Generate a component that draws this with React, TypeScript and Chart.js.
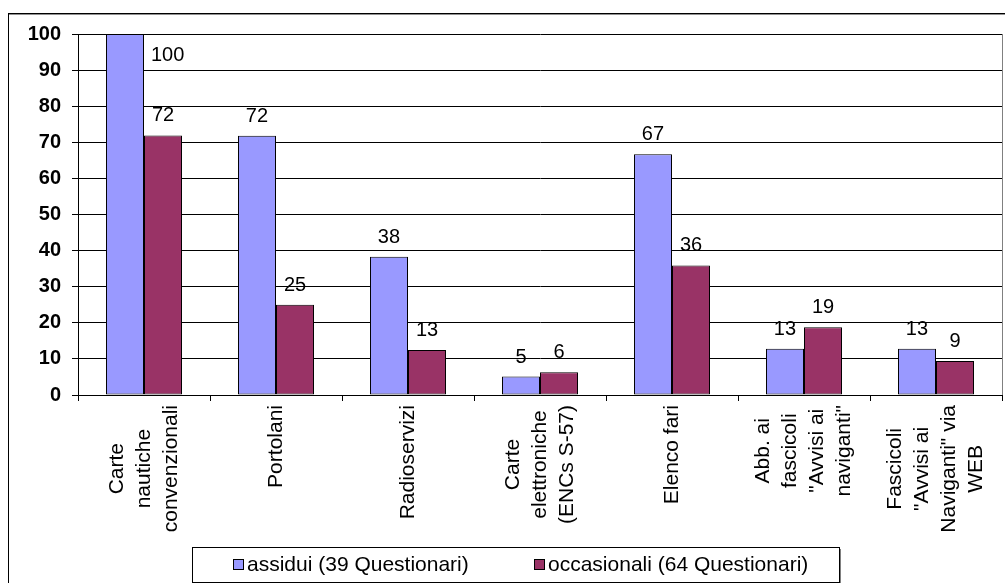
import { useEffect, useRef } from "react";
import { Chart, registerables } from "chart.js";

Chart.register(...registerables);

// ---- data ----
const categories: string[][] = [
  ["Carte", "nautiche", "convenzionali"],
  ["Portolani"],
  ["Radioservizi"],
  ["Carte", "elettroniche", "(ENCs S-57)"],
  ["Elenco fari"],
  ["Abb. ai", "fascicoli", "\"Avvisi ai", "naviganti\""],
  ["Fascicoli", "\"Avvisi ai", "Naviganti\" via", "WEB"],
];
const assiduiValues = [100, 71.8, 38.3, 5.1, 66.7, 12.8, 12.8];
const occasionaliValues = [71.9, 25, 12.5, 6.3, 35.9, 18.8, 9.4];
const seriesLabels = ["assidui (39 Questionari)", "occasionali (64 Questionari)"];
const seriesColors = ["#9999FF", "#993366"];
const yMin = 0;
const yMax = 100;
const yStep = 10;

const FONT = '"Liberation Sans", Arial, sans-serif';

const decorPlugin = {
  id: "decor",
  afterDraw(chart: any) {
    const ctx = chart.ctx as CanvasRenderingContext2D;
    const area = chart.chartArea;
    ctx.save();

    // right border of plot area
    ctx.strokeStyle = "#808080";
    ctx.lineWidth = 1;
    ctx.beginPath();
    ctx.moveTo(Math.round(area.right) + 0.5, area.top);
    ctx.lineTo(Math.round(area.right) + 0.5, area.bottom);
    ctx.stroke();

    // value labels
    ctx.fillStyle = "#000";
    ctx.font = `20px ${FONT}`;
    chart.data.datasets.forEach((ds: any, di: number) => {
      const meta = chart.getDatasetMeta(di);
      meta.data.forEach((bar: any, i: number) => {
        const txt = String(Math.round(ds.data[i]));
        const baseY = bar.y - 14;
        if (baseY - 15 < area.top) {
          ctx.textAlign = "left";
          ctx.textBaseline = "alphabetic";
          ctx.fillText(txt, bar.x + bar.width / 2 + 7, area.top + 27);
        } else {
          ctx.textAlign = "center";
          ctx.textBaseline = "alphabetic";
          ctx.fillText(txt, bar.x, baseY);
        }
      });
    });

    // category labels (rotated, lines centered)
    const xs = chart.scales.x;
    ctx.font = `21px ${FONT}`;
    const lh = 27;
    categories.forEach((lines, i) => {
      const cx = xs.getPixelForValue(i);
      const maxW = Math.max(...lines.map((l) => ctx.measureText(l).width));
      const centerY = xs.top + 10 + maxW / 2;
      lines.forEach((l, j) => {
        const x = cx + (j - (lines.length - 1) / 2) * lh;
        ctx.save();
        ctx.translate(x, centerY);
        ctx.rotate(-Math.PI / 2);
        ctx.textAlign = "center";
        ctx.textBaseline = "middle";
        ctx.fillText(l, 0, 0);
        ctx.restore();
      });
    });

    // legend box
    const lx = 192, ly = 547, lw = 647, lhh = 35;
    ctx.strokeStyle = "#808080";
    ctx.lineWidth = 2;
    ctx.beginPath();
    ctx.moveTo(lx + 2, ly + lhh + 1);
    ctx.lineTo(lx + lw + 1, ly + lhh + 1);
    ctx.lineTo(lx + lw + 1, ly + 2);
    ctx.stroke();
    ctx.strokeStyle = "#000";
    ctx.lineWidth = 1;
    ctx.strokeRect(lx + 0.5, ly + 0.5, lw, lhh);

    const itemX = [233, 534];
    seriesLabels.forEach((lab, k) => {
      const mx = itemX[k];
      const my = 559;
      ctx.fillStyle = seriesColors[k];
      ctx.fillRect(mx, my, 10, 10);
      ctx.strokeStyle = "#000";
      ctx.lineWidth = 1;
      ctx.strokeRect(mx + 0.5, my + 0.5, 10, 10);
      ctx.fillStyle = "#000";
      ctx.font = `21px ${FONT}`;
      ctx.textAlign = "left";
      ctx.textBaseline = "middle";
      ctx.fillText(lab, mx + 14, my + 6);
    });

    // outer chart border
    ctx.strokeStyle = "#000";
    ctx.lineWidth = 1;
    ctx.strokeRect(8.5, 13.5, 1200, 800);
    ctx.strokeStyle = "#909090";
    ctx.beginPath();
    ctx.moveTo(9, 14.5);
    ctx.lineTo(1005, 14.5);
    ctx.stroke();

    ctx.restore();
  },
};

export default function App() {
  const ref = useRef<HTMLCanvasElement>(null);

  useEffect(() => {
    if (!ref.current) return;
    const chart = new Chart(ref.current, {
      type: "bar",
      data: {
        labels: categories.map((c) => c.join(" ")),
        datasets: [
          {
            label: seriesLabels[0],
            data: assiduiValues,
            backgroundColor: seriesColors[0],
            borderColor: "#000",
            borderWidth: 1,
            borderSkipped: false,
          },
          {
            label: seriesLabels[1],
            data: occasionaliValues,
            backgroundColor: seriesColors[1],
            borderColor: "#000",
            borderWidth: 1,
            borderSkipped: false,
          },
        ],
      },
      options: {
        responsive: false,
        animation: false,
        devicePixelRatio: 1,
        datasets: { bar: { categoryPercentage: 0.576, barPercentage: 1 } },
        layout: { padding: { top: 34, right: 3, left: 0, bottom: 0 } },
        plugins: {
          legend: { display: false },
          tooltip: { enabled: false },
          title: { display: false },
        },
        scales: {
          x: {
            offset: true,
            grid: {
              display: true,
              drawOnChartArea: false,
              drawTicks: true,
              tickLength: 6,
              color: "#000",
              offset: true,
            },
            border: { display: true, color: "#000", width: 1 },
            ticks: { display: false },
            afterFit: (scale: any) => {
              scale.height = 188;
            },
          },
          y: {
            min: yMin,
            max: yMax,
            ticks: {
              stepSize: yStep,
              color: "#000",
              font: { family: FONT, size: 20, weight: "bold" },
              padding: 11,
            },
            grid: { color: "#000", tickLength: 6, drawTicks: true },
            border: { display: true, color: "#000", width: 1 },
            afterFit: (scale: any) => {
              scale.width = 78;
            },
          },
        },
      },
      plugins: [decorPlugin],
    });
    return () => chart.destroy();
  }, []);

  return (
    <div style={{ position: "fixed", left: 0, top: 0, width: 1005, height: 583, background: "#fff" }}>
      <canvas ref={ref} width={1005} height={583} style={{ display: "block" }} />
    </div>
  );
}
